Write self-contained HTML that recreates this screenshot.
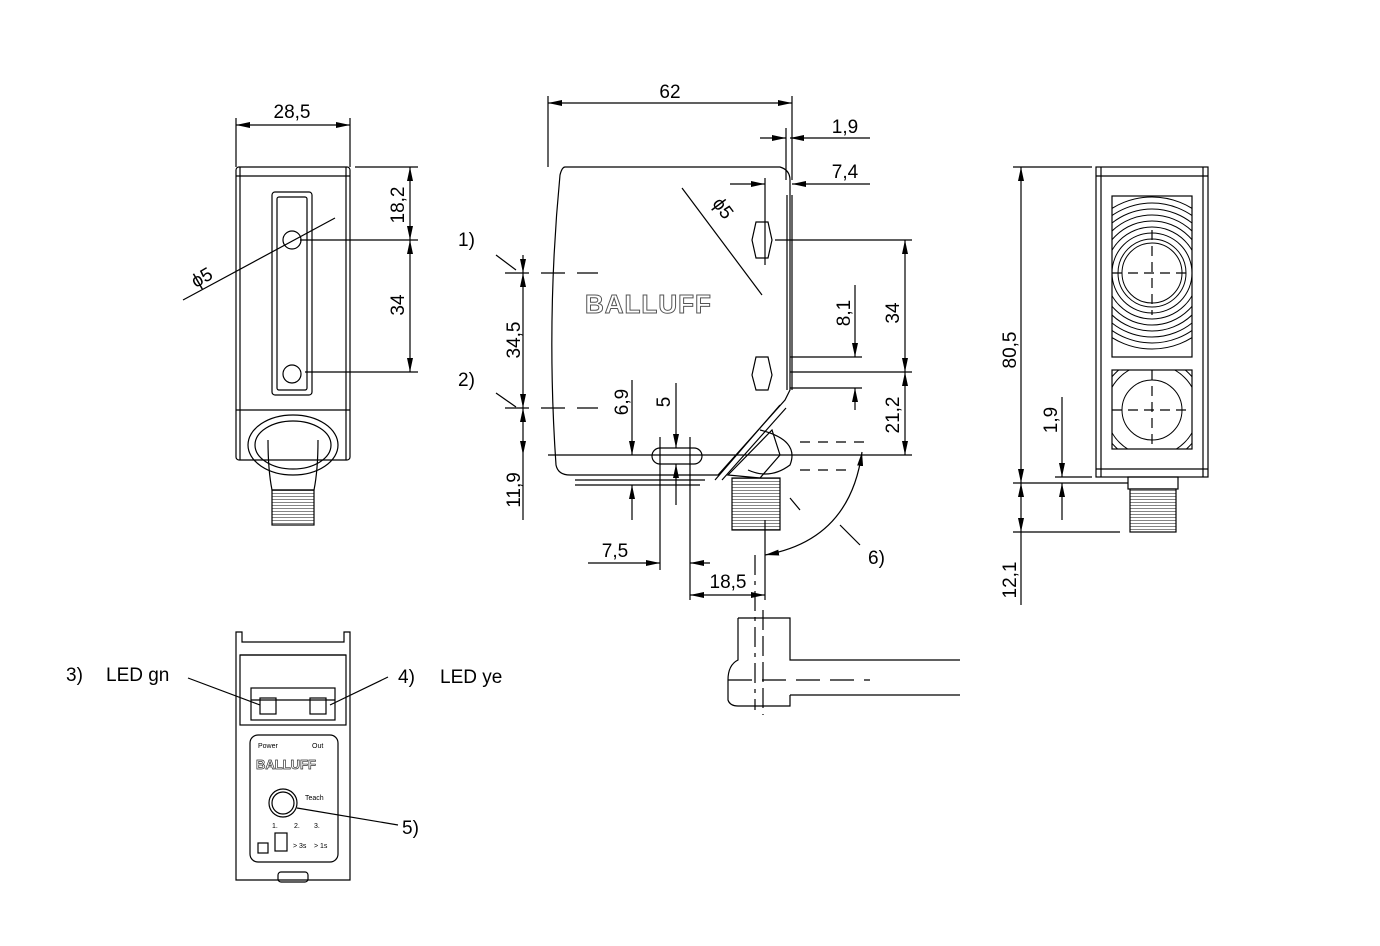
<!DOCTYPE html>
<html><head><meta charset="utf-8"><style>
html,body{margin:0;padding:0;background:#fff;width:1380px;height:946px;overflow:hidden}
svg{display:block}
text{font-family:"Liberation Sans",Arial,sans-serif;fill:#000}
</style></head><body>
<svg width="1380" height="946" viewBox="0 0 1380 946" xmlns="http://www.w3.org/2000/svg">
<defs>
<marker id="a" viewBox="0 0 14 6" refX="14" refY="3" markerWidth="14" markerHeight="6" orient="auto-start-reverse" markerUnits="userSpaceOnUse"><path d="M0,0L14,3L0,6z" fill="#000"/></marker>
<pattern id="th" width="6" height="3" patternUnits="userSpaceOnUse"><line x1="0" y1="1.5" x2="6" y2="1.5" stroke="#666" stroke-width="0.8"/></pattern>
</defs>
<g fill="none" stroke="#000" stroke-width="1.2">
<!-- LEFT VIEW -->
<rect x="236" y="167" width="114" height="293" rx="3"/>
<line x1="240" y1="167" x2="240" y2="460"/><line x1="346" y1="167" x2="346" y2="460"/>
<line x1="236" y1="176" x2="350" y2="176"/>
<line x1="236" y1="410" x2="350" y2="410"/>
<rect x="272" y="192" width="40" height="203" rx="3"/>
<rect x="277" y="197" width="30" height="193" rx="2"/>
<circle cx="292" cy="240" r="9"/><circle cx="292" cy="374" r="9"/>
<ellipse cx="293" cy="445" rx="45" ry="30"/><ellipse cx="293" cy="445" rx="38" ry="24"/>
<path d="M268,440 Q268,470 272,490 L314,490 Q318,470 318,440"/>
<rect x="272" y="490" width="42" height="35" fill="url(#th)"/>
<!-- dims left view -->
<line x1="236" y1="118" x2="236" y2="167"/><line x1="350" y1="118" x2="350" y2="167"/>
<line x1="236" y1="125" x2="350" y2="125" marker-start="url(#a)" marker-end="url(#a)"/>
<line x1="355" y1="167" x2="418" y2="167"/><line x1="300" y1="240" x2="418" y2="240"/><line x1="305" y1="372" x2="418" y2="372"/>
<line x1="410" y1="167" x2="410" y2="240" marker-start="url(#a)" marker-end="url(#a)"/>
<line x1="410" y1="240" x2="410" y2="372" marker-start="url(#a)" marker-end="url(#a)"/>
<line x1="183" y1="300" x2="335" y2="218"/>
<!-- MIDDLE VIEW -->
<path d="M565,167 L780,167 Q790,170 790,180 L790,390 L785,400 L718,475 L570,475 Q558,475 556,465 Q546,320 560,175 Q562,167 565,167 Z"/>
<line x1="787" y1="195" x2="787" y2="390"/><line x1="792" y1="195" x2="792" y2="390"/>
<line x1="575" y1="480" x2="705" y2="480"/><line x1="575" y1="485" x2="700" y2="485"/>
<line x1="780" y1="405" x2="715" y2="480"/><line x1="786" y1="408" x2="722" y2="480"/>
<path d="M728,475 L772,430 L780,455 L760,478 Z"/>
<path d="M760,430 Q800,440 790,465 Q770,480 748,470"/>
<rect x="732" y="478" width="48" height="52" fill="url(#th)"/>
<rect x="652" y="448" width="50" height="16" rx="8"/>
<path d="M756,222 L768,222 L772,240 L768,258 L756,258 L752,240 Z"/>
<path d="M756,357 L768,357 L772,375 L768,390 L756,390 L752,375 Z"/>
<text x="585" y="313" font-size="26" font-weight="bold" fill="none" stroke="#555" stroke-width="1" style="fill:none" letter-spacing="1">BALLUFF</text>
<!-- middle dims -->
<line x1="548" y1="96" x2="548" y2="167"/><line x1="792" y1="96" x2="792" y2="180"/>
<line x1="548" y1="103" x2="792" y2="103" marker-start="url(#a)" marker-end="url(#a)"/>
<line x1="786" y1="128" x2="786" y2="180"/>
<line x1="760" y1="138" x2="786" y2="138" marker-end="url(#a)"/><line x1="815" y1="138" x2="790" y2="138" marker-end="url(#a)"/><line x1="815" y1="138" x2="870" y2="138"/>
<line x1="765" y1="178" x2="765" y2="265"/>
<line x1="730" y1="184" x2="765" y2="184" marker-end="url(#a)"/><line x1="815" y1="184" x2="792" y2="184" marker-end="url(#a)"/><line x1="815" y1="184" x2="870" y2="184"/>
<line x1="682" y1="188" x2="762" y2="295"/>
<line x1="775" y1="240" x2="912" y2="240"/><line x1="790" y1="372" x2="912" y2="372"/><line x1="548" y1="455" x2="912" y2="455"/>
<line x1="905" y1="240" x2="905" y2="372" marker-start="url(#a)" marker-end="url(#a)"/>
<line x1="905" y1="372" x2="905" y2="455" marker-start="url(#a)" marker-end="url(#a)"/>
<line x1="790" y1="357" x2="862" y2="357"/><line x1="790" y1="388" x2="862" y2="388"/>
<line x1="855" y1="285" x2="855" y2="357" marker-end="url(#a)"/><line x1="855" y1="410" x2="855" y2="388" marker-end="url(#a)"/>
<line x1="523" y1="255" x2="523" y2="273" marker-end="url(#a)"/>
<line x1="523" y1="273" x2="523" y2="408" marker-start="url(#a)" marker-end="url(#a)"/>
<line x1="523" y1="408" x2="523" y2="455" marker-start="url(#a)" marker-end="url(#a)"/>
<line x1="523" y1="455" x2="523" y2="520"/>
<line x1="505" y1="273" x2="598" y2="273" stroke-dasharray="24,12"/>
<line x1="505" y1="408" x2="598" y2="408" stroke-dasharray="24,12"/>
<line x1="496" y1="255" x2="516" y2="270"/><line x1="496" y1="393" x2="516" y2="407"/>
<line x1="632" y1="380" x2="632" y2="455" marker-end="url(#a)"/><line x1="632" y1="520" x2="632" y2="485" marker-end="url(#a)"/>
<line x1="676" y1="383" x2="676" y2="448" marker-end="url(#a)"/><line x1="676" y1="505" x2="676" y2="464" marker-end="url(#a)"/>
<line x1="660" y1="437" x2="660" y2="570"/><line x1="690" y1="437" x2="690" y2="600"/>
<line x1="588" y1="563" x2="660" y2="563" marker-end="url(#a)"/><line x1="710" y1="563" x2="690" y2="563" marker-end="url(#a)"/>
<line x1="765" y1="520" x2="765" y2="600"/>
<line x1="690" y1="595" x2="765" y2="595" marker-start="url(#a)" marker-end="url(#a)"/>
<line x1="755" y1="555" x2="755" y2="710" stroke-dasharray="20,6,4,6"/>
<path d="M765,555 Q850,540 862,452" marker-start="url(#a)" marker-end="url(#a)"/>
<line x1="840" y1="525" x2="860" y2="545"/>
<line x1="790" y1="498" x2="800" y2="510"/>
<line x1="800" y1="442" x2="870" y2="442" stroke-dasharray="10,8"/>
<line x1="800" y1="470" x2="850" y2="470" stroke-dasharray="10,8"/>
<!-- connector cable -->
<path d="M738,618 L790,618 L790,660 L960,660 M790,695 L960,695 M738,618 L738,660 Q728,665 728,680 L728,700 Q730,706 738,706 L790,706 L790,695"/>
<line x1="728" y1="680" x2="870" y2="680" stroke-dasharray="24,10"/>
<line x1="763" y1="610" x2="763" y2="715" stroke-dasharray="20,6"/>
<!-- RIGHT VIEW -->
<rect x="1096" y="167" width="112" height="310"/>
<line x1="1101" y1="167" x2="1101" y2="477"/><line x1="1203" y1="167" x2="1203" y2="477"/>
<line x1="1096" y1="176" x2="1208" y2="176"/><line x1="1096" y1="469" x2="1208" y2="469"/>
<rect x="1112" y="196" width="80" height="161"/>
<rect x="1112" y="370" width="80" height="79"/>
<clipPath id="c1"><rect x="1112" y="196" width="80" height="161"/></clipPath>
<clipPath id="c2"><rect x="1112" y="370" width="80" height="79"/></clipPath>
<g clip-path="url(#c1)" stroke-width="1">
<circle cx="1152" cy="273" r="30"/><circle cx="1152" cy="273" r="34"/><circle cx="1152" cy="273" r="40"/><circle cx="1152" cy="273" r="46"/><circle cx="1152" cy="273" r="52"/><circle cx="1152" cy="273" r="58"/><circle cx="1152" cy="273" r="64"/><circle cx="1152" cy="273" r="70"/><circle cx="1152" cy="273" r="76"/>
</g>
<g clip-path="url(#c2)" stroke-width="1">
<circle cx="1152" cy="410" r="30"/><circle cx="1152" cy="410" r="46"/><circle cx="1152" cy="410" r="52"/>
</g>
<line x1="1112" y1="273" x2="1192" y2="273" stroke-dasharray="10,6"/><line x1="1152" y1="230" x2="1152" y2="315" stroke-dasharray="10,6"/>
<line x1="1112" y1="410" x2="1192" y2="410" stroke-dasharray="10,6"/><line x1="1152" y1="370" x2="1152" y2="450" stroke-dasharray="10,6"/>
<rect x="1128" y="477" width="50" height="12"/>
<rect x="1130" y="489" width="46" height="43" fill="url(#th)"/>
<line x1="1013" y1="167" x2="1092" y2="167"/><line x1="1013" y1="483" x2="1128" y2="483"/><line x1="1013" y1="532" x2="1120" y2="532"/>
<line x1="1055" y1="477" x2="1092" y2="477"/>
<line x1="1021" y1="167" x2="1021" y2="483" marker-start="url(#a)" marker-end="url(#a)"/>
<line x1="1021" y1="483" x2="1021" y2="532" marker-start="url(#a)" marker-end="url(#a)"/>
<line x1="1021" y1="532" x2="1021" y2="605"/>
<line x1="1062" y1="397" x2="1062" y2="477" marker-end="url(#a)"/><line x1="1062" y1="520" x2="1062" y2="483" marker-end="url(#a)"/>
<!-- BOTTOM-LEFT VIEW -->
<path d="M236,880 L236,632 L242,632 L242,642 L344,642 L344,632 L350,632 L350,880 Z"/>
<line x1="240" y1="655" x2="346" y2="655"/>
<rect x="240" y="655" width="106" height="70"/>
<rect x="251" y="688" width="84" height="32"/>
<line x1="251" y1="700" x2="335" y2="700"/>
<rect x="260" y="698" width="16" height="16"/><rect x="310" y="698" width="16" height="16"/>
<rect x="250" y="735" width="88" height="127" rx="8"/>
<circle cx="283" cy="803" r="14"/><circle cx="283" cy="803" r="11"/>
<rect x="275" y="833" width="12" height="18"/>
<rect x="258" y="843" width="10" height="10"/>
<rect x="278" y="872" width="30" height="10" rx="3"/>
<line x1="188" y1="678" x2="260" y2="705"/><line x1="388" y1="677" x2="330" y2="705"/>
<line x1="297" y1="808" x2="398" y2="825"/>
</g>
<g font-size="19">
<text x="292" y="118" text-anchor="middle">28,5</text>
<text transform="translate(404,205) rotate(-90)" text-anchor="middle">18,2</text>
<text transform="translate(404,305) rotate(-90)" text-anchor="middle">34</text>
<text transform="translate(205,283) rotate(-30)" text-anchor="middle">ϕ5</text>
<text x="670" y="98" text-anchor="middle">62</text>
<text x="845" y="133" text-anchor="middle">1,9</text>
<text x="845" y="178" text-anchor="middle">7,4</text>
<text transform="translate(718,212) rotate(53)" text-anchor="middle">ϕ5</text>
<text transform="translate(899,313) rotate(-90)" text-anchor="middle">34</text>
<text transform="translate(899,415) rotate(-90)" text-anchor="middle">21,2</text>
<text transform="translate(850,313) rotate(-90)" text-anchor="middle">8,1</text>
<text transform="translate(520,340) rotate(-90)" text-anchor="middle">34,5</text>
<text transform="translate(520,490) rotate(-90)" text-anchor="middle">11,9</text>
<text transform="translate(628,402) rotate(-90)" text-anchor="middle">6,9</text>
<text transform="translate(670,402) rotate(-90)" text-anchor="middle">5</text>
<text x="615" y="557" text-anchor="middle">7,5</text>
<text x="728" y="588" text-anchor="middle">18,5</text>
<text x="458" y="246">1)</text>
<text x="458" y="386">2)</text>
<text x="868" y="564">6)</text>
<text transform="translate(1016,350) rotate(-90)" text-anchor="middle">80,5</text>
<text transform="translate(1057,420) rotate(-90)" text-anchor="middle">1,9</text>
<text transform="translate(1016,580) rotate(-90)" text-anchor="middle">12,1</text>
<text x="66" y="681">3)</text><text x="106" y="681">LED gn</text>
<text x="398" y="683">4)</text><text x="440" y="683">LED ye</text>
<text x="402" y="834">5)</text>
</g>
<g font-size="7">
<text x="258" y="748">Power</text><text x="312" y="748">Out</text>
<text x="305" y="800">Teach</text>
<text x="293" y="848">&gt; 3s</text><text x="314" y="848">&gt; 1s</text>
<text x="272" y="828">1.</text><text x="294" y="828">2.</text><text x="314" y="828">3.</text>
</g>
<text x="256" y="769" font-size="13" font-weight="bold" fill="none" stroke="#333" stroke-width="0.7" style="fill:none">BALLUFF</text>
</svg>
</body></html>
